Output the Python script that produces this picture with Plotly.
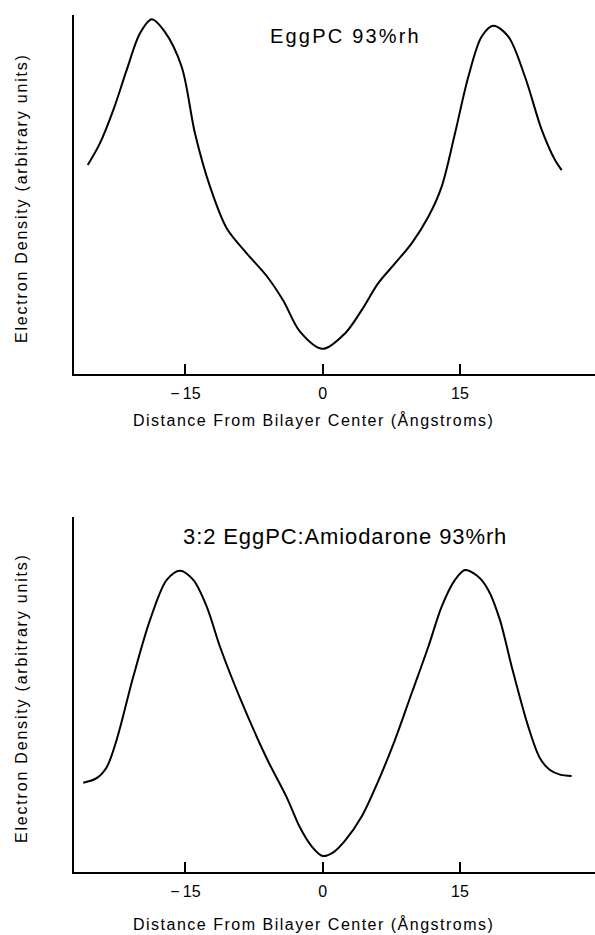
import plotly.graph_objects as go

# ---- data ----
top_x = [-25.67, -24.33, -22.88, -21.41, -19.96, -18.68, -17.30, -15.41, -13.95, -12.31,
         -10.49, -8.30, -6.12, -4.30, -2.48, 0.0, 2.44, 4.26, 6.07, 7.90,
         9.72, 11.54, 13.00, 14.45, 15.91, 17.37, 18.64, 20.28, 22.10, 23.93,
         25.38, 26.11]
top_y = [58.2, 64.3, 73.5, 84.7, 94.9, 98.8, 95.5, 85.6, 67.0, 52.2,
         40.6, 33.6, 27.3, 20.4, 11.8, 7.0, 11.3, 17.8, 25.3, 30.8,
         36.4, 43.8, 52.2, 67.0, 82.8, 94.0, 97.0, 94.0, 82.8, 68.0,
         59.6, 56.8]

bot_x = [-26.16, -24.70, -23.60, -22.51, -20.69, -18.87, -17.04, -15.59, -14.14, -12.67,
         -11.22, -9.04, -6.12, -3.93, -2.48, -1.20, 0.0, 1.20, 2.44, 4.26,
         6.07, 7.90, 9.72, 11.54, 13.00, 14.45, 15.55, 17.00, 18.09, 19.37,
         20.65, 22.46, 23.74, 24.83, 25.93, 27.20]
bot_y = [25.1, 26.4, 29.5, 37.2, 55.0, 70.9, 82.2, 84.8, 82.2, 74.7,
         63.4, 49.0, 32.0, 21.0, 12.5, 7.2, 4.5, 5.6, 8.8, 15.6,
         25.6, 37.2, 50.3, 63.4, 74.7, 82.2, 85.0, 83.1, 79.4, 70.9,
         57.8, 40.9, 32.0, 28.7, 27.4, 27.0]

tick_vals = [-15, 0, 15]
tick_text = ["\u2212\u200915", "0", "15"]

top_title = "EggPC 93%rh"
bot_title = "3:2 EggPC:Amiodarone 93%rh"
x_title = "Distance From Bilayer Center (\u00c5ngstroms)"
y_title = "Electron Density (arbitrary units)"

# ---- layout helpers ----
W, H = 595, 935
FONT = "Liberation Sans, Arial, sans-serif"


def fx(px):
    return px / W


def fy(py):
    return 1 - py / H


def spaced(text, sp):
    return f'<span style="letter-spacing:{sp}px">{text}</span>'


fig = go.Figure()
line_style = dict(color="black", width=2, shape="spline", smoothing=0.9)
fig.add_trace(go.Scatter(x=top_x, y=top_y, mode="lines", line=line_style,
                         xaxis="x", yaxis="y", hoverinfo="skip"))
fig.add_trace(go.Scatter(x=bot_x, y=bot_y, mode="lines", line=line_style,
                         xaxis="x2", yaxis="y2", hoverinfo="skip"))

xcommon = dict(range=[-27.17, 29.75], tickvals=tick_vals, ticktext=tick_text,
               ticks="inside", ticklen=10, tickwidth=1.5, tickcolor="black",
               showline=True, linewidth=2, linecolor="black",
               showgrid=False, zeroline=False, fixedrange=True,
               tickfont=dict(family=FONT, size=16, color="black"),
               ticklabelstandoff=4)
ycommon = dict(range=[0, 100], showticklabels=False, ticks="",
               showline=True, linewidth=2, linecolor="black",
               showgrid=False, zeroline=False, fixedrange=True)

x_dom = [fx(74), 1.0]
top_dom = [fy(374), fy(15)]
bot_dom = [fy(872), fy(516.7)]

fig.update_layout(
    width=W, height=H, autosize=False,
    margin=dict(l=0, r=0, t=0, b=0),
    paper_bgcolor="white", plot_bgcolor="white",
    showlegend=False,
    xaxis=dict(domain=x_dom, anchor="y", **xcommon),
    yaxis=dict(domain=top_dom, anchor="x", **ycommon),
    xaxis2=dict(domain=x_dom, anchor="y2", **xcommon),
    yaxis2=dict(domain=bot_dom, anchor="x2", **ycommon),
)

ann = []
ann.append(dict(text=spaced(top_title, 2.2), x=fx(345.5), y=fy(36), xref="paper", yref="paper",
                xanchor="center", yanchor="middle", showarrow=False,
                font=dict(family=FONT, size=20, color="black")))
ann.append(dict(text=spaced(bot_title, 0.9), x=fx(345), y=fy(536.5), xref="paper", yref="paper",
                xanchor="center", yanchor="middle", showarrow=False,
                font=dict(family=FONT, size=22, color="black")))
for yc in (420, 924):
    ann.append(dict(text=spaced(x_title, 1.5), x=fx(313), y=fy(yc), xref="paper", yref="paper",
                    xanchor="center", yanchor="middle", showarrow=False,
                    font=dict(family=FONT, size=16, color="black")))
for yc in (198, 698):
    ann.append(dict(text=spaced(y_title, 1.8), x=fx(21), y=fy(yc), xref="paper", yref="paper",
                    xanchor="center", yanchor="middle", showarrow=False, textangle=-90,
                    font=dict(family=FONT, size=16, color="black")))
fig.update_layout(annotations=ann)

fig.write_html("out.html", config={"displayModeBar": False})
